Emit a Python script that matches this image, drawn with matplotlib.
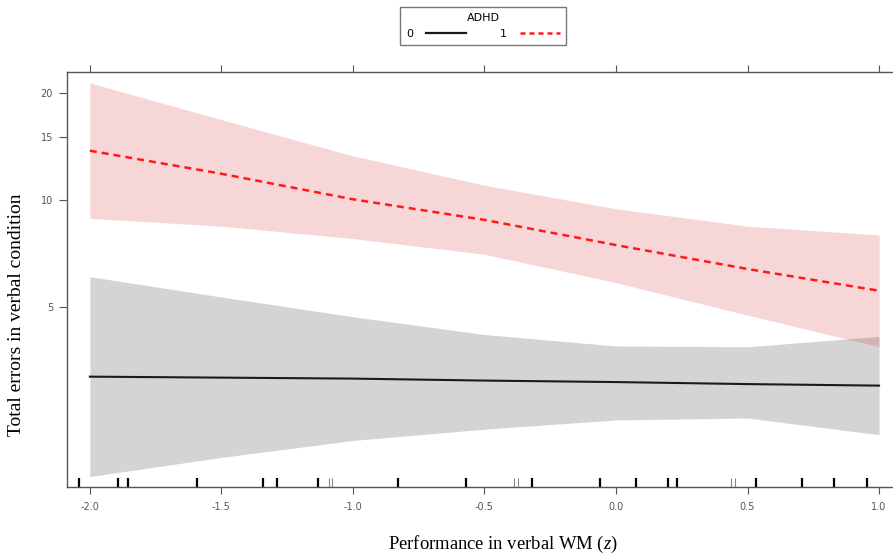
import numpy as np
from matplotlib import pyplot as plt
from matplotlib.lines import Line2D

plt.rcParams['mathtext.fontset'] = 'custom'
plt.rcParams['mathtext.it'] = 'Liberation Serif:italic'
plt.rcParams['mathtext.rm'] = 'Liberation Serif'

# performance in verbal WM (z) at which the fitted curves were read
z = [-2.0, -1.5, -1.0, -0.5, 0.0, 0.5, 1.0]

# ADHD = 1 (red, dashed)
fit1 = [13.75, 11.85, 10.05, 8.80, 7.48, 6.41, 5.57]
lo1 = [8.89, 8.45, 7.80, 7.05, 5.87, 4.76, 3.88]
hi1 = [21.3, 16.8, 13.3, 11.0, 9.45, 8.45, 7.98]

# ADHD = 0 (black, solid)
fit0 = [3.20, 3.18, 3.16, 3.12, 3.09, 3.05, 3.02]
lo0 = [1.68, 1.90, 2.12, 2.28, 2.42, 2.45, 2.20]
hi0 = [6.10, 5.35, 4.71, 4.20, 3.90, 3.88, 4.15]

# rug of observed z values
rug_black = [-2.041, -1.892, -1.854, -1.594, -1.341, -1.290, -1.132, -0.828,
             -0.570, -0.321, -0.061, 0.076, 0.199, 0.231, 0.531, 0.706,
             0.829, 0.953]
rug_grey = [-1.090, -1.078, -0.386, -0.374, 0.439, 0.451]

xticks = [-2.0, -1.5, -1.0, -0.5, 0.0, 0.5, 1.0]
yticks = [5, 10, 15, 20]

fig = plt.figure(figsize=(8.93, 5.56), dpi=100)
ax = fig.add_axes([0.075, 0.1241, 0.935, 0.7464])

ax.fill_between(z, lo0, hi0, color='#d4d4d4', lw=0)
ax.fill_between(z, lo1, hi1, color=(215/255, 50/255, 60/255), alpha=0.2, lw=0)
ax.plot(z, fit0, color='#1a1a1a', lw=1.5)
ax.plot(z, fit1, color='#ff1a1a', lw=1.8, dashes=(2.8, 2.0))

tr = ax.get_xaxis_transform()
ax.vlines(rug_black, 0, 0.022, transform=tr, color='black', lw=1.6)
ax.vlines(rug_grey, 0, 0.022, transform=tr, color='#888888', lw=0.8)

ax.set_yscale('log')
ax.set_xlim(-2.087, 1.087)
ax.set_ylim(1.57, 22.85)
ax.set_xticks(xticks)
ax.set_xticklabels(['%.1f' % v for v in xticks])
ax.set_yticks(yticks)
ax.set_yticklabels([str(v) for v in yticks])
ax.minorticks_off()

for s in ax.spines.values():
    s.set_color('#555555')
    s.set_linewidth(1.0)

ax.tick_params(axis='x', top=True, labeltop=False, direction='out', length=5,
               width=0.8, color='#555555', labelsize=7, labelcolor='#555555', pad=6)
ax.tick_params(axis='y', direction='out', length=6, width=0.8, color='#555555',
               labelsize=7, labelcolor='#555555', pad=4)

ax.set_xlabel('Performance in verbal WM ($z$)', family='Liberation Serif',
              fontsize=13.4)
ax.xaxis.set_label_coords(0.522, -0.112)
ax.set_ylabel('Total errors in verbal condition', family='Liberation Serif',
              fontsize=14)
ax.yaxis.set_label_coords(-0.050, 0.414)

handles = [Line2D([], [], color='#1a1a1a', lw=1.6),
           Line2D([], [], color='#ff1a1a', lw=1.8, dashes=(2.0, 1.6))]
leg = fig.legend(handles, ['0', '1'], title='ADHD', ncol=2, markerfirst=False,
                 loc='center', bbox_to_anchor=(483 / 893, 1 - 26 / 556),
                 fontsize=8, title_fontsize=8, handlelength=3.6,
                 handletextpad=1.2, columnspacing=3.0, fancybox=False,
                 borderpad=0.5, labelspacing=0.6, borderaxespad=0)
leg.get_frame().set_edgecolor('#555555')
leg.get_frame().set_linewidth(1.0)

fig.savefig('out.png', dpi=100)
